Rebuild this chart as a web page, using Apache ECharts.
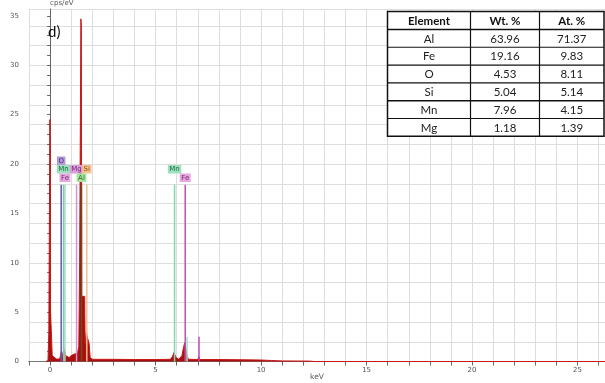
<!DOCTYPE html>
<html>
<head>
<meta charset="utf-8">
<script src="https://cdn.jsdelivr.net/npm/echarts@6/dist/echarts.min.js"></script>
<style>html,body{margin:0;padding:0;background:#fff}#c{width:605px;height:383px}</style>
</head>
<body>
<div id="c"></div>
<script>
// ---- data ----
const spectrumKeV = [-0.2,-0.1,-0.06,-0.02,-0.01,0.01,0.02,0.08,0.1,0.15,0.3,0.45,0.5,0.53,0.56,0.62,0.66,0.7,0.74,0.8,0.9,1.0,1.1,1.2,1.25,1.3,1.36,1.4,1.44,1.46,1.48,1.5,1.52,1.64,1.66,1.72,1.76,1.85,1.9,2.0,3.0,4.0,5.0,5.7,5.8,5.87,5.92,5.97,6.1,6.25,6.32,6.38,6.42,6.47,6.55,7.0,7.05,7.1,8.0,9.0,10.0,10.5,11.0,12.3,12.5,26.3];
const spectrumCps = [0,0.1,3.0,3.0,24.5,22,5.1,5.0,0.6,0.4,0.25,0.25,0.6,1.0,0.5,0.6,1.3,1.0,0.6,0.4,0.4,0.6,0.7,0.8,1.0,0.9,1.5,10,10,34.7,34.0,6.6,6.6,6.6,1.8,3.0,2.5,1.8,0.4,0.22,0.22,0.2,0.2,0.22,0.5,0.9,0.8,0.4,0.22,0.6,1.4,1.9,1.5,0.8,0.22,0.2,0.5,0.2,0.2,0.18,0.15,0.1,0.06,0.04,0,0];

const markerNames = ['O','Mn','Fe','Mg','Al','Si','Mn','Fe'];
const markerKeV = [0.525,0.637,0.705,1.254,1.487,1.740,5.899,6.404];
const markerHeight = [17.9,17.9,17.9,17.9,17.9,17.9,17.9,17.9];
const betaNames = ['Mn','Fe'];
const betaKeV = [6.490,7.058];
const betaHeight = [2.5,2.5];

const tableHeader = ['Element','Wt. %','At. %'];
const tableElements = ['Al','Fe','O','Si','Mn','Mg'];
const tableWt = ['63.96','19.16','4.53','5.04','7.96','1.18'];
const tableAt = ['71.37','9.83','8.11','5.14','4.15','1.39'];

const xTickStep = 1, xLabelStep = 5;
const yTickStep = 1, yLabelStep = 5;

// ---- styles / layout ----
const markerLevel = [2,1,0,1,0,1,1,0];
const markerLine = ['#6a5aa8','#7ec4d8','#9ee0b8','#d890d0','#6b5020','#f0c090','#7fd8b0','#c050b0'];
const labelBg = {O:'#b49ad8', Mn:'#9fe0bf', Fe:'#e6a6e0', Mg:'#d9a0dc', Al:'#a8e4a0', Si:'#f6c28e'};
const labelFg = {O:'#4a2a80', Mn:'#1f6a45', Fe:'#7a2a70', Mg:'#7a2a70', Al:'#2a6a2a', Si:'#8a4a10'};
const betaLine = ['#9ee0c8','#c050b0'];

const chart = echarts.init(document.getElementById('c'), null, {renderer:'canvas'});

const spec = spectrumKeV.map((k,i)=>[k, spectrumCps[i]]);
const markers = markerKeV.map((k,i)=>[k, markerHeight[i], i]);
const betas = betaKeV.map((k,i)=>[k, betaHeight[i], i]);

// table graphic
const tX = 387.5, tY = 11.5, colW = [83, 69, 64.5], hdrH = 18, rowH = 17.8;
const tableG = [];
const totalH = hdrH + rowH*tableElements.length;
const totalW = colW[0]+colW[1]+colW[2];
tableG.push({type:'rect', shape:{x:tX,y:tY,width:totalW,height:totalH}, style:{fill:'#fff', stroke:'#111', lineWidth:1.5}, z:100});
let cx = tX;
for (let c=0;c<2;c++){ cx += colW[c]; tableG.push({type:'line', shape:{x1:cx,y1:tY,x2:cx,y2:tY+totalH}, style:{stroke:'#111', lineWidth:1.2}, z:101}); }
for (let r=0;r<tableElements.length;r++){
  const y = tY + hdrH + r*rowH;
  tableG.push({type:'line', shape:{x1:tX,y1:y,x2:tX+totalW,y2:y}, style:{stroke:'#111', lineWidth:(r===0||r===4)?1.6:1.1}, z:101});
}
const colCenters = [tX+colW[0]/2, tX+colW[0]+colW[1]/2, tX+colW[0]+colW[1]+colW[2]/2];
tableHeader.forEach((h,c)=>{
  tableG.push({type:'text', x:colCenters[c], y:tY+hdrH/2+0.5, style:{text:h, font:'bold 11.5px Lato, "Open Sans", sans-serif', fill:'#111', align:'center', verticalAlign:'middle'}, z:102});
});
tableElements.forEach((e,r)=>{
  const vals = [e, tableWt[r], tableAt[r]];
  vals.forEach((v,c)=>{
    tableG.push({type:'text', x:colCenters[c], y:tY+hdrH+r*rowH+rowH/2+0.5, style:{text:v, font:'11.5px Lato, "Open Sans", sans-serif', fill:'#222', align:'center', verticalAlign:'middle'}, z:102});
  });
});

const axisLabelStyle = {color:'#555', fontSize:7, fontFamily:'"DejaVu Sans", sans-serif'};

chart.setOption({
  animation:false,
  backgroundColor:'#fff',
  title:{text:'d)', left:43, top:20, textStyle:{fontSize:15, fontWeight:'normal', color:'#111', fontFamily:'Lato, "Open Sans", sans-serif'}},
  grid:{left:29, right:0, top:9, bottom:21.5, containLabel:false, outerBoundsMode:'none'},
  xAxis:[{
    type:'value', min:-1, max:26.3, interval:xTickStep,
    name:'keV', nameLocation:'middle', nameGap:12, nameMoveOverlap:false,
    nameTextStyle:{color:'#555', fontSize:7.5, fontFamily:'"DejaVu Sans", sans-serif'},
    axisLine:{show:true, onZero:false, lineStyle:{color:'#666', width:1}},
    axisTick:{show:true, length:4, lineStyle:{color:'#666'}},
    axisLabel:{...axisLabelStyle, margin:5, showMaxLabel:false, formatter:v=> (Math.abs(v % xLabelStep) < 1e-9 ? String(v) : '')},
    splitLine:{show:true, lineStyle:{color:'#dedede', width:1}}
  },{
    type:'value', position:'top', min:-1, max:26.3,
    axisLine:{show:true, lineStyle:{color:'#777', width:1}},
    axisTick:{show:false}, axisLabel:{show:false}, splitLine:{show:false}
  }],
  yAxis:[{
    type:'value', min:0, max:35.7, interval:yTickStep, offset:4,
    name:'cps/eV', nameLocation:'end', nameGap:2,
    nameTextStyle:{color:'#555', fontSize:7, align:'left', fontFamily:'"DejaVu Sans", sans-serif'},
    axisLine:{show:true, lineStyle:{color:'#666', width:1}},
    axisTick:{show:true, length:3, lineStyle:{color:'#666'}},
    axisLabel:{...axisLabelStyle, margin:6, showMaxLabel:false, formatter:v=> (Math.abs(v % yLabelStep) < 1e-9 ? String(v) : '')},
    splitLine:{show:false}
  },{
    type:'value', min:0, max:35.7, interval:2, position:'left',
    axisLine:{show:false}, axisTick:{show:false}, axisLabel:{show:false},
    splitLine:{show:true, lineStyle:{color:'#dedede', width:1}}
  }],
  series:[{
    type:'line', data:spec, xAxisIndex:0, yAxisIndex:0,
    showSymbol:false, symbol:'none',
    lineStyle:{color:'#c81818', width:1},
    areaStyle:{color:'#a80f0f', opacity:1},
    z:3
  },{
    type:'custom', data:markers, xAxisIndex:0, yAxisIndex:0, z:5,
    renderItem:(params, api)=>{
      const i = api.value(2);
      const p0 = api.coord([api.value(0),0]);
      const p1 = api.coord([api.value(0),api.value(1)]);
      const name = markerNames[i];
      const lvl = markerLevel[i];
      const yc = p1[1] - 7 - lvl*8.5;
      return {type:'group', children:[
        {type:'line', shape:{x1:p0[0],y1:p0[1],x2:p1[0],y2:p1[1]}, style:{stroke:markerLine[i], lineWidth:1.5}},
        {type:'text', x:p1[0], y:yc, style:{text:name, fill:labelFg[name], font:'7px "DejaVu Sans", sans-serif', align:'center', verticalAlign:'middle', backgroundColor:labelBg[name], padding:[1,1.5,0.5,1.5]}}
      ]};
    }
  },{
    type:'custom', data:betas, xAxisIndex:0, yAxisIndex:0, z:5,
    renderItem:(params, api)=>{
      const i = api.value(2);
      const p0 = api.coord([api.value(0),0]);
      const p1 = api.coord([api.value(0),api.value(1)]);
      return {type:'line', shape:{x1:p0[0],y1:p0[1],x2:p1[0],y2:p1[1]}, style:{stroke:betaLine[i], lineWidth:1.5}};
    }
  }],
  graphic:tableG
});
</script>
</body>
</html>
